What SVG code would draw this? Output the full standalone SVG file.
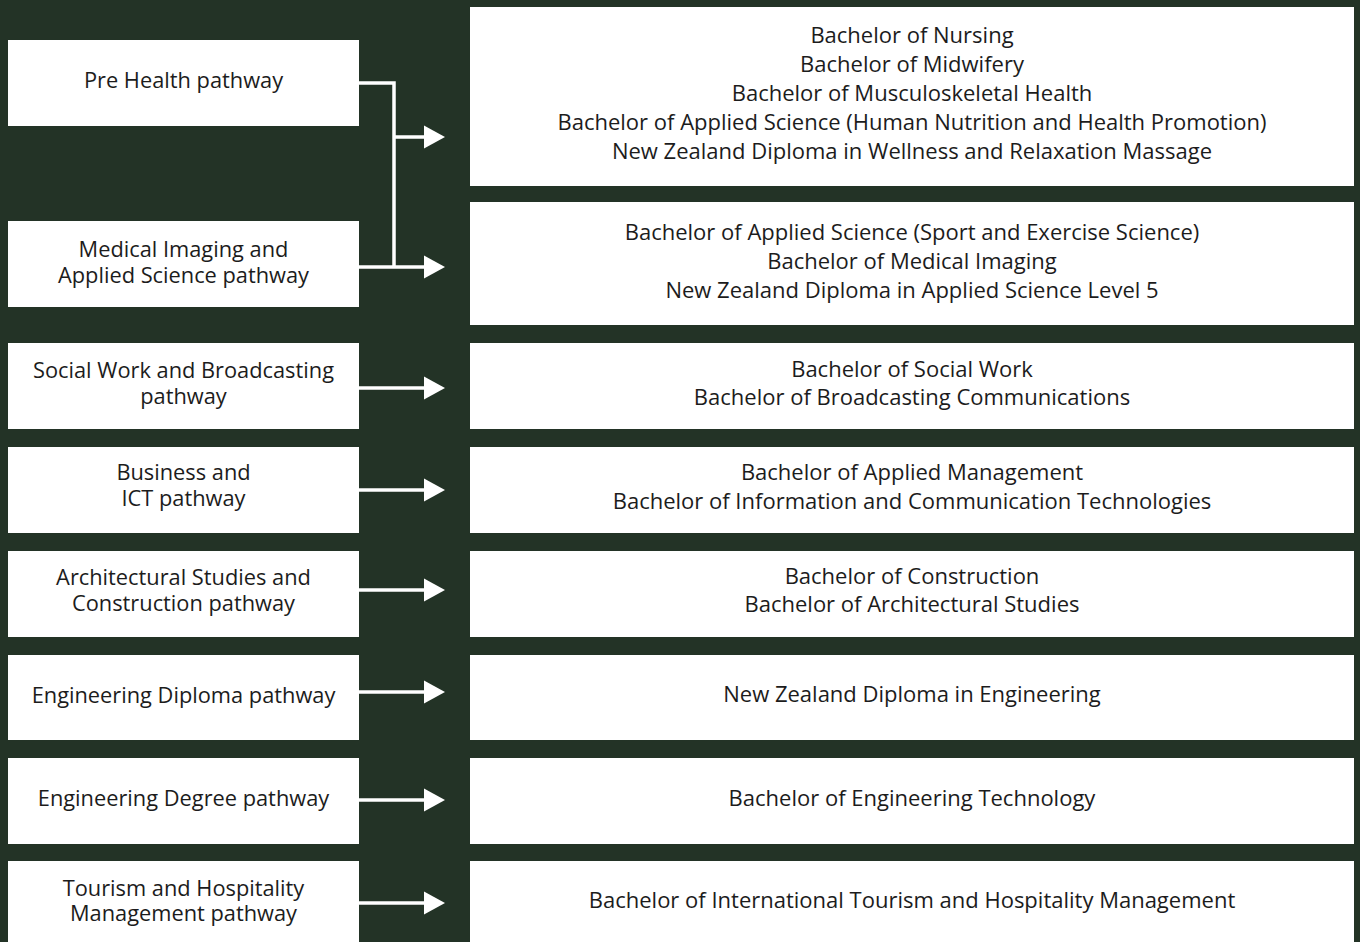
<svg xmlns="http://www.w3.org/2000/svg" width="1360" height="942" viewBox="0 0 1360 942">
<defs>
<style>
.bg{fill:#233326}
.box{fill:#ffffff}
.t{font-family:"Open Sans","Liberation Sans",sans-serif;font-size:22px;fill:#1c1c1c;text-anchor:middle}
.l{font-size:21.8px}
.ln{stroke:#ffffff;stroke-width:3.5;fill:none}
.ah{fill:#ffffff}
</style>
</defs>
<rect class="bg" x="0" y="0" width="1360" height="942"/>

<g id="left-prehealth"><rect class="box" x="8" y="40" width="351" height="86"/><text class="t l" x="183.5" y="88.3">Pre Health pathway</text></g>
<g id="left-medical"><rect class="box" x="8" y="221" width="351" height="86"/><text class="t l" x="183.5" y="256.7">Medical Imaging and</text><text class="t l" x="183.5" y="282.7">Applied Science pathway</text></g>
<g id="left-social"><rect class="box" x="8" y="343" width="351" height="86"/><text class="t l" x="183.5" y="377.5">Social Work and Broadcasting</text><text class="t l" x="183.5" y="403.5">pathway</text></g>
<g id="left-business"><rect class="box" x="8" y="447" width="351" height="86"/><text class="t l" x="183.5" y="479.5">Business and</text><text class="t l" x="183.5" y="505.5">ICT pathway</text></g>
<g id="left-arch"><rect class="box" x="8" y="551" width="351" height="86"/><text class="t l" x="183.5" y="584.5">Architectural Studies and</text><text class="t l" x="183.5" y="610.5">Construction pathway</text></g>
<g id="left-engdip"><rect class="box" x="8" y="655" width="351" height="85"/><text class="t l" x="183.5" y="702.5">Engineering Diploma pathway</text></g>
<g id="left-engdeg"><rect class="box" x="8" y="758" width="351" height="86"/><text class="t l" x="183.5" y="805.5">Engineering Degree pathway</text></g>
<g id="left-tourism"><rect class="box" x="8" y="861" width="351" height="81"/><text class="t l" x="183.5" y="895.5">Tourism and Hospitality</text><text class="t l" x="183.5" y="920.5">Management pathway</text></g>

<g id="right-health"><rect class="box" x="470" y="7" width="884" height="179"/>
<text class="t" x="912" y="43.3">Bachelor of Nursing</text>
<text class="t" x="912" y="72.3">Bachelor of Midwifery</text>
<text class="t" x="912" y="101">Bachelor of Musculoskeletal Health</text>
<text class="t" x="912" y="130">Bachelor of Applied Science (Human Nutrition and Health Promotion)</text>
<text class="t" x="912" y="158.5">New Zealand Diploma in Wellness and Relaxation Massage</text></g>
<g id="right-science"><rect class="box" x="470" y="202" width="884" height="123"/>
<text class="t" x="912" y="239.5">Bachelor of Applied Science (Sport and Exercise Science)</text>
<text class="t" x="912" y="268.5">Bachelor of Medical Imaging</text>
<text class="t" x="912" y="297.5">New Zealand Diploma in Applied Science Level 5</text></g>
<g id="right-social"><rect class="box" x="470" y="343" width="884" height="86"/>
<text class="t" x="912" y="376.7">Bachelor of Social Work</text>
<text class="t" x="912" y="405">Bachelor of Broadcasting Communications</text></g>
<g id="right-business"><rect class="box" x="470" y="447" width="884" height="86"/>
<text class="t" x="912" y="479.5">Bachelor of Applied Management</text>
<text class="t" x="912" y="508.5">Bachelor of Information and Communication Technologies</text></g>
<g id="right-arch"><rect class="box" x="470" y="551" width="884" height="86"/>
<text class="t" x="912" y="583.5">Bachelor of Construction</text>
<text class="t" x="912" y="611.5">Bachelor of Architectural Studies</text></g>
<g id="right-engdip"><rect class="box" x="470" y="655" width="884" height="85"/>
<text class="t" x="912" y="701.7">New Zealand Diploma in Engineering</text></g>
<g id="right-engdeg"><rect class="box" x="470" y="758" width="884" height="86"/>
<text class="t" x="912" y="805.5">Bachelor of Engineering Technology</text></g>
<g id="right-tourism"><rect class="box" x="470" y="861" width="884" height="81"/>
<text class="t" x="912" y="907.5">Bachelor of International Tourism and Hospitality Management</text></g>

<g id="connectors">
<path class="ln" d="M359 83 H394 V267 M394 137 H426"/>
<polygon class="ah" points="424,125.5 445,137 424,148.5"/>
<path class="ln" d="M359 267 H426"/>
<polygon class="ah" points="424,255.5 445,267 424,278.5"/>
<path class="ln" d="M359 388 H426"/>
<polygon class="ah" points="424,376.5 445,388 424,399.5"/>
<path class="ln" d="M359 490 H426"/>
<polygon class="ah" points="424,478.5 445,490 424,501.5"/>
<path class="ln" d="M359 590 H426"/>
<polygon class="ah" points="424,578.5 445,590 424,601.5"/>
<path class="ln" d="M359 692 H426"/>
<polygon class="ah" points="424,680.5 445,692 424,703.5"/>
<path class="ln" d="M359 800 H426"/>
<polygon class="ah" points="424,788.5 445,800 424,811.5"/>
<path class="ln" d="M359 903 H426"/>
<polygon class="ah" points="424,891.5 445,903 424,914.5"/>
</g>
</svg>
